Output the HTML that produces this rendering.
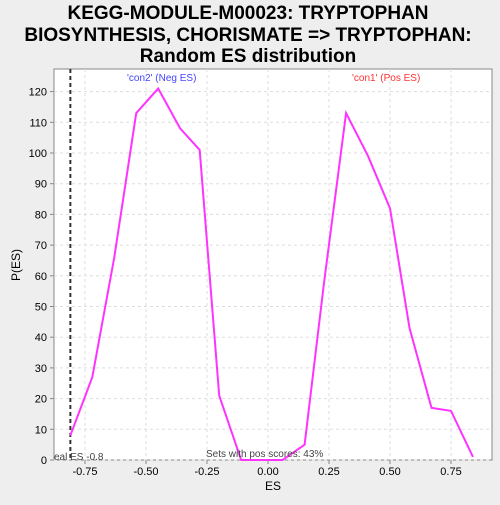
<!DOCTYPE html>
<html><head><meta charset="utf-8"><style>
body{margin:0;background:#eeeeee;font-family:"Liberation Sans",sans-serif}
</style></head><body>
<svg width="500" height="500" xmlns="http://www.w3.org/2000/svg" font-family="Liberation Sans, sans-serif">
<rect width="500" height="500" fill="#eeeeee"/>
<g font-size="19" font-weight="bold" text-anchor="middle" fill="#000">
<text x="248" y="19">KEGG-MODULE-M00023: TRYPTOPHAN</text>
<text x="248" y="41">BIOSYNTHESIS, CHORISMATE =&gt; TRYPTOPHAN:</text>
<text x="248" y="62">Random ES distribution</text>
</g>
<rect x="54" y="69" width="438" height="391" fill="#fff" stroke="#888"/>
<g id="grid"></g><g id="axes"></g><g id="series"></g>
<text x="20" y="265" font-size="12" transform="rotate(-90 20 265)" text-anchor="middle">P(ES)</text>
<text x="273" y="490" font-size="12" text-anchor="middle">ES</text>
<text x="127" y="81" font-size="10" fill="#4444ff">'con2' (Neg ES)</text>
<text x="352" y="81" font-size="10" fill="#ff3333">'con1' (Pos ES)</text>
<text x="206" y="457" font-size="10" fill="#444">Sets with pos scores: 43%</text>
<text x="54" y="460" font-size="10" fill="#444">eal ES -0.8</text>
</svg>
<script>
const esValues=[-0.81,-0.72,-0.63,-0.54,-0.45,-0.36,-0.28,-0.2,-0.11,-0.03,0.06,0.15,0.23,0.32,0.41,0.5,0.58,0.67,0.75,0.84];
const pValues=[8,27,66,113,121,108,101,21,0,0,0,5,58,113,99,82,43,17,16,1];
const xTicks=[-0.75,-0.5,-0.25,0,0.25,0.5,0.75];
const xTickLabels=["-0.75","-0.50","-0.25","0.00","0.25","0.50","0.75"];
const yTicks=[0,10,20,30,40,50,60,70,80,90,100,110,120];
const realES=-0.81;
const X=v=>268+v*244, Y=v=>460-v*3.07;
const NS="http://www.w3.org/2000/svg";
function mk(p,t,a){const e=document.createElementNS(NS,t);for(const k in a)e.setAttribute(k,a[k]);p.appendChild(e);return e;}
const g=document.getElementById('grid'),ax=document.getElementById('axes'),s=document.getElementById('series');
xTicks.forEach((v,i)=>{
 const l=mk(g,'line',{x1:X(v),x2:X(v),y1:69,y2:460,stroke:'#ddd','stroke-dasharray':'3,3'});
 
 const tk=mk(ax,'line',{x1:X(v),x2:X(v),y1:460,y2:464,stroke:'#888'});
 
 const t=mk(ax,'text',{x:X(v),y:475,'font-size':11,'text-anchor':'middle'});t.textContent=xTickLabels[i];
 
});
yTicks.forEach(v=>{
 const l=mk(g,'line',{x1:54,x2:492,y1:Y(v),y2:Y(v),stroke:'#ddd','stroke-dasharray':'3,3'});
 
 const tk=mk(ax,'line',{x1:50,x2:54,y1:Y(v),y2:Y(v),stroke:'#888'});
 
 const t=mk(ax,'text',{x:47,y:Y(v)+4,'font-size':11,'text-anchor':'end'});t.textContent=v;
 
});
const rl=mk(s,'line',{x1:X(realES),x2:X(realES),y1:69,y2:460,stroke:'#333','stroke-width':2,'stroke-dasharray':'4,3'});

const pl=mk(s,'polyline',{points:esValues.map((v,i)=>X(v)+','+Y(pValues[i])).join(' '),fill:'none',stroke:'#ff33ff','stroke-width':2});

</script>
</body></html>
